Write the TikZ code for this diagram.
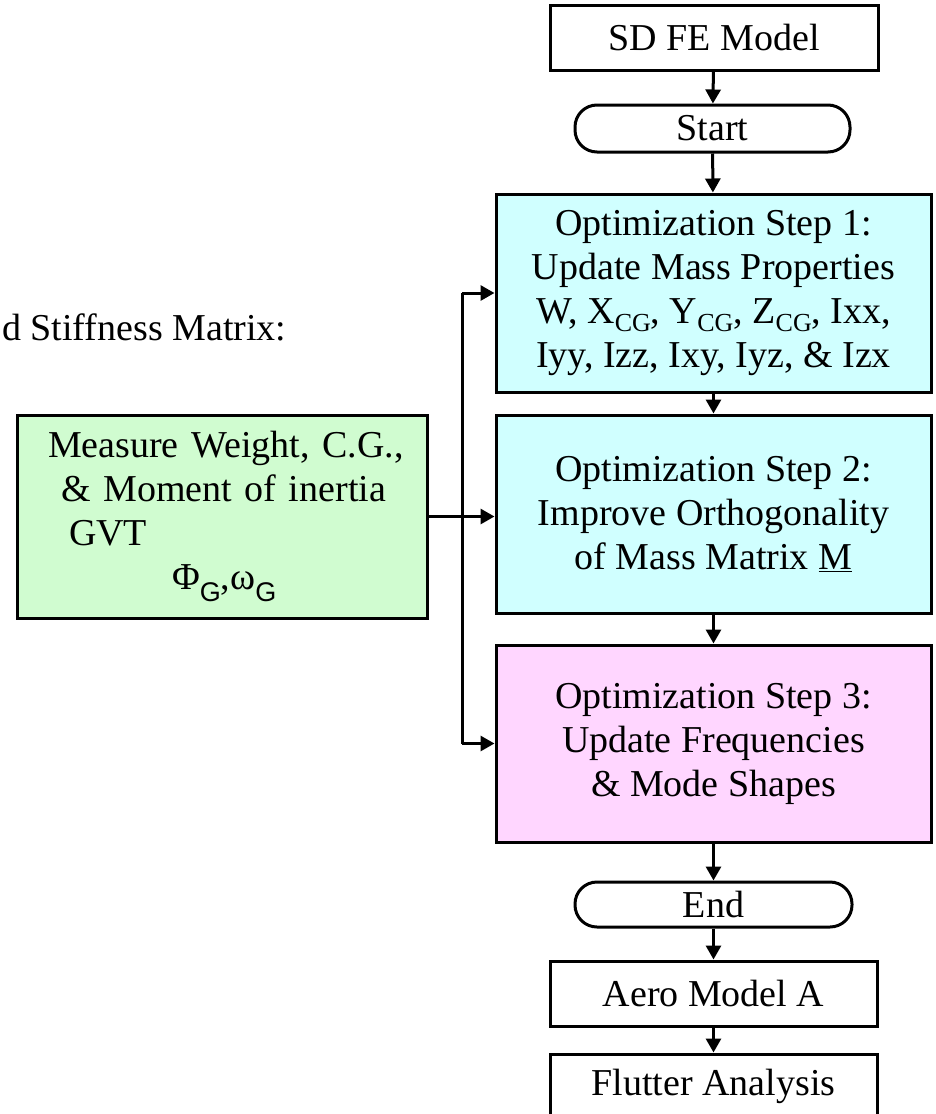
\documentclass[tikz,border=0pt]{standalone}
\usepackage{fontspec}
\setmainfont{Liberation Serif}
\newfontfamily\sansf{Liberation Sans}
\usetikzlibrary{arrows.meta}
\definecolor{cyanfill}{RGB}{208,255,255}
\definecolor{greenfill}{RGB}{208,252,208}
\definecolor{pinkfill}{RGB}{255,214,255}
\newcommand{\mysub}[1]{\raisebox{-0.22em}{\fontsize{26}{26}\selectfont #1}}
\newcommand{\gsub}[1]{\raisebox{-0.3em}{\sansf\fontsize{27}{27}\selectfont #1}}
\begin{document}
\begin{tikzpicture}[x=1pt,y=-1pt,
  box/.style={draw=black, line width=3pt, inner sep=0pt, align=center,
    font=\fontsize{38}{44}\selectfont},
  term/.style={box, rounded corners=22pt},
  arr/.style={line width=3pt, -{Triangle[length=14pt,width=15pt]}},
  plain/.style={line width=3pt}]
\clip (0,0) rectangle (935,1114);
\node[box, minimum width=328pt, minimum height=65pt] (sd) at (714,37.5) {SD FE Model};
\node[term, minimum width=275pt, minimum height=47pt] (start) at (712.5,128.5) {Start};
\node[box, fill=cyanfill, minimum width=435pt, minimum height=198pt] (s1) at (713.5,293)
  {Optimization Step 1:\\Update Mass Properties\\W, X\mysub{CG}, Y\mysub{CG}, Z\mysub{CG}, Ixx,\\Iyy, Izz, Ixy, Iyz, \& Izx};
\node[box, fill=cyanfill, minimum width=435pt, minimum height=198pt] (s2) at (713.5,514)
  {Optimization Step 2:\\Improve Orthogonality\\of Mass Matrix \underline{M}};
\node[box, fill=pinkfill, minimum width=435pt, minimum height=197pt] (s3) at (713.5,743.5)
  {Optimization Step 3:\\Update Frequencies\\\& Mode Shapes};
\node[term, minimum width=277pt, minimum height=45pt] (end) at (713.5,904.5) {End};
\node[box, minimum width=327pt, minimum height=65pt] (aero) at (713.5,993.5) {Aero Model A};
\node[box, minimum width=327pt, minimum height=65pt] (flutter) at (713.5,1086.5) {Flutter Analysis};
\node[box, fill=greenfill, minimum width=410pt, minimum height=203pt, text width=410pt, align=left] (green) at (222,516.5)
  {\hspace*{31pt}Measure Weight, C.G.,\\\hspace*{44pt}\& Moment of inertia\\\hspace*{52pt}GVT\\\hspace*{155pt}Φ\gsub{G},ω\gsub{G}};
\node[anchor=base west, inner sep=0pt, font=\fontsize{38}{44}\selectfont] (lbl) at (2,340) {d Stiffness Matrix:};
\coordinate (j1) at (462,293);
\coordinate (j3) at (462,743.5);
\draw[arr] (sd) -- (start);
\draw[arr] (start) -- (s1);
\draw[arr] (s1) -- (s2);
\draw[arr] (s2) -- (s3);
\draw[arr] (s3) -- (end);
\draw[arr] (end) -- (aero);
\draw[arr] (aero) -- (flutter);
\draw[arr] (green.east) -- (green.east -| s2.west);
\draw[plain] (j1) -- (j3);
\draw[arr] (j1) -- (j1 -| s1.west);
\draw[arr] (j3) -- (j3 -| s3.west);
\end{tikzpicture}
\end{document}
